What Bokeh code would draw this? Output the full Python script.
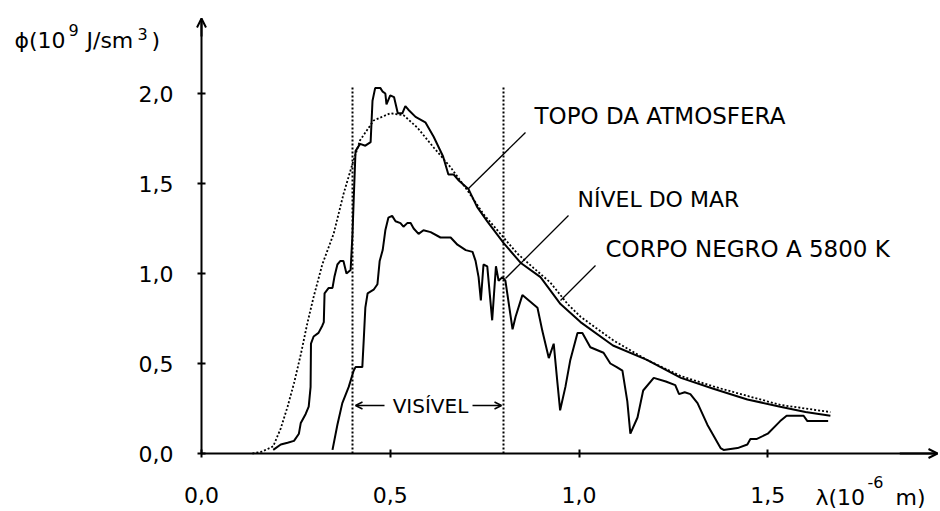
from bokeh.plotting import figure
from bokeh.models import (Range1d, FixedTicker, CustomJSTickFormatter, Label,
                          Arrow, OpenHead)
from bokeh.embed import file_html
from bokeh.resources import INLINE

FONT = "DejaVu Sans"

# ---------------- data ----------------
# blackbody 5800 K (dotted)
bb_x = [0.135, 0.16, 0.19, 0.21, 0.228, 0.245, 0.263, 0.28, 0.297, 0.32, 0.35,
        0.376, 0.40, 0.42, 0.456, 0.50, 0.535, 0.572, 0.615, 0.66, 0.705, 0.747,
        0.792, 0.837, 0.88, 0.924, 0.97, 1.004, 1.05, 1.09, 1.18, 1.27, 1.36,
        1.446, 1.533, 1.60, 1.666]
bb_y = [0.0, 0.01, 0.04, 0.14, 0.26, 0.39, 0.55, 0.72, 0.87, 1.05, 1.22,
        1.44, 1.61, 1.74, 1.85, 1.89, 1.88, 1.81, 1.70, 1.59, 1.46, 1.33,
        1.22, 1.11, 1.03, 0.95, 0.83, 0.76, 0.69, 0.63, 0.52, 0.43, 0.37,
        0.32, 0.27, 0.25, 0.23]

# top of atmosphere (solid)
toa_x = [0.19, 0.21, 0.228, 0.245, 0.258, 0.263, 0.276, 0.284, 0.289, 0.29,
         0.297, 0.31, 0.32, 0.324, 0.326, 0.337, 0.347, 0.352, 0.36, 0.368,
         0.376, 0.384, 0.395, 0.40, 0.403, 0.408, 0.42, 0.434, 0.448, 0.453,
         0.46, 0.474, 0.48, 0.487, 0.49, 0.50, 0.51, 0.52, 0.532, 0.54, 0.548,
         0.567, 0.593, 0.615, 0.64, 0.654, 0.668, 0.68, 0.707, 0.73, 0.757,
         0.80, 0.845, 0.898, 0.951, 1.004, 1.09, 1.18, 1.27, 1.356, 1.446,
         1.533, 1.60, 1.666]
toa_y = [0.02, 0.05, 0.06, 0.07, 0.11, 0.17, 0.22, 0.26, 0.37, 0.61,
         0.65, 0.67, 0.71, 0.73, 0.89, 0.92, 0.92, 0.98, 1.05, 1.07,
         1.07, 1.00, 1.02, 1.22, 1.40, 1.68, 1.72, 1.71, 1.73, 1.96,
         2.03, 2.03, 2.01, 2.00, 1.94, 1.99, 1.98, 1.89, 1.89, 1.93, 1.91,
         1.87, 1.84, 1.76, 1.65, 1.55, 1.55, 1.52, 1.47, 1.37, 1.29,
         1.17, 1.06, 0.98, 0.83, 0.73, 0.60, 0.52, 0.42, 0.36, 0.30,
         0.26, 0.23, 0.21]

# sea level (solid)
sl_x = [0.347, 0.36, 0.373, 0.39, 0.403, 0.408, 0.426, 0.43, 0.434, 0.44,
        0.456, 0.466, 0.472, 0.48, 0.487, 0.495, 0.505, 0.514, 0.527, 0.535,
        0.545, 0.554, 0.562, 0.575, 0.588, 0.607, 0.633, 0.66, 0.678, 0.70,
        0.718, 0.726, 0.734, 0.74, 0.747, 0.757, 0.77, 0.78, 0.787, 0.797,
        0.805, 0.824, 0.832, 0.85, 0.89, 0.903, 0.92, 0.933, 0.943, 0.95,
        0.964, 0.977, 0.996, 1.009, 1.03, 1.065, 1.083, 1.10, 1.115, 1.128,
        1.136, 1.155, 1.17, 1.198, 1.23, 1.255, 1.265, 1.28, 1.295, 1.314,
        1.34, 1.375, 1.383, 1.42, 1.446, 1.454, 1.47, 1.50, 1.533, 1.55,
        1.595, 1.605, 1.66]
sl_y = [0.02, 0.16, 0.28, 0.37, 0.46, 0.48, 0.48, 0.64, 0.81, 0.89,
        0.91, 0.94, 1.07, 1.13, 1.24, 1.31, 1.32, 1.29, 1.28, 1.26,
        1.28, 1.28, 1.25, 1.22, 1.24, 1.23, 1.20, 1.20, 1.16, 1.13,
        1.12, 1.07, 0.98, 0.85, 1.05, 1.04, 0.74, 1.04, 0.96, 0.98,
        0.96, 0.69, 0.76, 0.88, 0.81, 0.68, 0.53, 0.61, 0.39, 0.24,
        0.37, 0.52, 0.67, 0.67, 0.59, 0.56, 0.50, 0.48, 0.46, 0.29,
        0.11, 0.20, 0.35, 0.42, 0.40, 0.38, 0.33, 0.34, 0.33, 0.28,
        0.16, 0.03, 0.02, 0.03, 0.05, 0.08, 0.08, 0.11, 0.18, 0.21,
        0.21, 0.18, 0.18]

visible_edges = [0.4, 0.8]
visible_top = 2.04

x_ticks = [0.0, 0.5, 1.0, 1.5]
y_ticks = [0.0, 0.5, 1.0, 1.5, 2.0]

# ---------------- layout ----------------
W, H = 940, 511
X_PER, Y_PER = 377.5, 180.0
X0_PAGE, Y0_PAGE = 201, 453   # pixel of the origin


def px(xp):
    return (xp - X0_PAGE) / X_PER


def py(yp):
    return (Y0_PAGE - yp) / Y_PER


x_arrow = px(937)
y_arrow = py(18)

p = figure(width=W, height=H, output_backend="svg", toolbar_location=None,
           x_range=Range1d(px(0), px(W)), y_range=Range1d(py(H), py(0)),
           min_border_left=0, min_border_right=0, min_border_top=0,
           min_border_bottom=0)
p.outline_line_color = None
p.grid.visible = False
p.background_fill_color = "white"
p.border_fill_color = "white"

fmt = CustomJSTickFormatter(code="return tick.toFixed(1).replace('.', ',');")
for ax in (p.xaxis[0], p.yaxis[0]):
    ax.fixed_location = 0
    ax.axis_line_width = 2
    ax.axis_line_color = "black"
    ax.major_tick_in = 4
    ax.major_tick_out = 4
    ax.major_tick_line_width = 2
    ax.major_tick_line_color = "black"
    ax.minor_tick_line_color = None
    ax.major_label_text_font = FONT
    ax.major_label_text_font_size = "22px"
    ax.major_label_text_color = "black"
    ax.formatter = fmt
p.xaxis.ticker = FixedTicker(ticks=x_ticks)
p.yaxis.ticker = FixedTicker(ticks=y_ticks)
p.xaxis.bounds = (0, x_arrow)
p.yaxis.bounds = (0, y_arrow)
p.xaxis.major_label_standoff = 29
p.yaxis.major_label_standoff = 24

# axis arrow heads
p.add_layout(Arrow(end=OpenHead(size=9, line_width=2), x_start=0, y_start=y_arrow - 0.1,
                   x_end=0, y_end=y_arrow, line_width=2))
p.add_layout(Arrow(end=OpenHead(size=9, line_width=2), x_start=x_arrow - 0.1, y_start=0,
                   x_end=x_arrow, y_end=0, line_width=2))

# visible band edges
for xv in visible_edges:
    p.line([xv, xv], [0, visible_top], line_color="black", line_width=2,
           line_dash="2 2")

# curves
p.line(bb_x, bb_y, line_color="black", line_width=1.8, line_dash="2 2")
p.line(toa_x, toa_y, line_color="black", line_width=2)
p.line(sl_x, sl_y, line_color="black", line_width=2)

# leader lines (pixel anchors)
leaders = [((525, 132), (468, 188)), ((568, 215), (505, 278)), ((595, 265), (560, 300))]
p.segment([px(a[0]) for a, b in leaders], [py(a[1]) for a, b in leaders],
          [px(b[0]) for a, b in leaders], [py(b[1]) for a, b in leaders],
          line_color="black", line_width=1.3)

# VISIVEL arrows
yv = py(405)
p.add_layout(Arrow(end=OpenHead(size=7, line_width=1.5), x_start=px(384), y_start=yv,
                   x_end=px(355), y_end=yv, line_width=1.5))
p.add_layout(Arrow(end=OpenHead(size=7, line_width=1.5), x_start=px(472), y_start=yv,
                   x_end=px(501), y_end=yv, line_width=1.5))


def lab(xp, yp, text, size="22px", align="left"):
    # yp = vertical centre of the capitals, in pixels
    p.add_layout(Label(x=px(xp), y=py(yp), text=text, text_font=FONT,
                       text_font_size=size, text_color="black",
                       text_baseline="middle", text_align=align))


lab(534, 115, "TOPO DA ATMOSFERA", size="23px")
lab(577, 198.5, "NÍVEL DO MAR", size="22px")
lab(605, 248.5, "CORPO NEGRO A 5800 K", size="23px")
lab(430, 405.5, "VISÍVEL", size="20px", align="center")

# y axis title: ϕ(10^9 J/sm^3)
lab(14, 39.5, "ϕ(10")
lab(68, 29.5, "9", size="16px")
lab(86, 39.5, "J/sm")
lab(137, 33.5, "3", size="16px")
lab(151, 39.5, ")")

# x axis title: λ(10^-6 m)
lab(815, 496.5, "λ(10")
lab(867, 481, "-6", size="16px")
lab(895, 496.5, "m)")

open("out.html", "w").write(file_html(p, INLINE))
